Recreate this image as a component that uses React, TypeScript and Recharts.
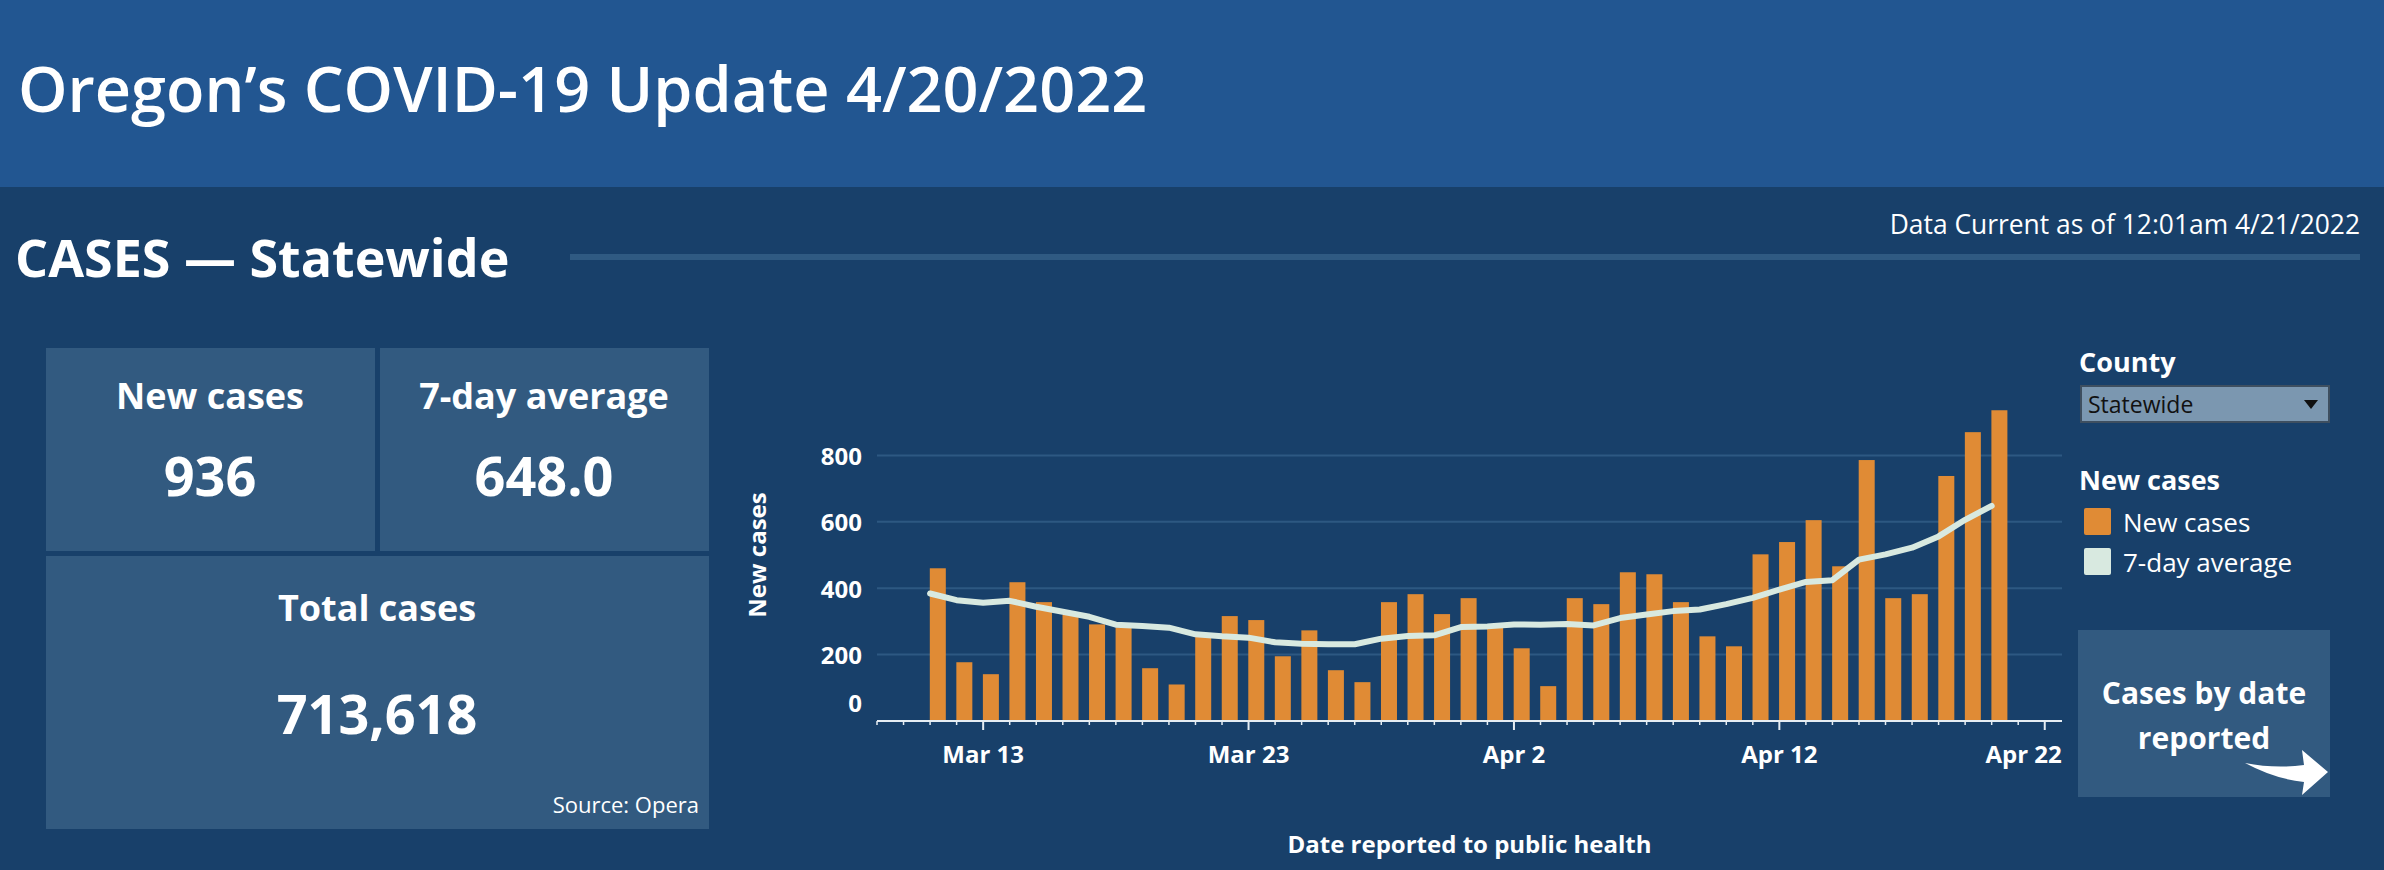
import React from 'react';
import { ComposedChart, Bar, Line, XAxis, YAxis, CartesianGrid } from 'recharts';

// daily data, Mar 11 - Apr 20 2022
const dates = [
  '2022-03-11', '2022-03-12', '2022-03-13', '2022-03-14', '2022-03-15', '2022-03-16', '2022-03-17',
  '2022-03-18', '2022-03-19', '2022-03-20', '2022-03-21', '2022-03-22', '2022-03-23', '2022-03-24',
  '2022-03-25', '2022-03-26', '2022-03-27', '2022-03-28', '2022-03-29', '2022-03-30', '2022-03-31',
  '2022-04-01', '2022-04-02', '2022-04-03', '2022-04-04', '2022-04-05', '2022-04-06', '2022-04-07',
  '2022-04-08', '2022-04-09', '2022-04-10', '2022-04-11', '2022-04-12', '2022-04-13', '2022-04-14',
  '2022-04-15', '2022-04-16', '2022-04-17', '2022-04-18', '2022-04-19', '2022-04-20',
];
const newCases = [
  460, 177, 141, 418, 358, 320, 291, 282, 159, 110, 258, 316, 304, 195,
  273, 153, 117, 358, 382, 322, 370, 285, 219, 105, 370, 352, 448, 442,
  358, 255, 225, 502, 539, 605, 466, 786, 370, 382, 738, 870, 936,
];
const avg7 = [
  384, 364, 356, 362, 344, 329, 314, 290, 286, 281, 261, 255, 251, 237,
  233, 231, 231, 248, 256, 258, 283, 285, 291, 290, 292, 288, 310, 321,
  331, 336, 352, 371, 396, 419, 424, 486, 502, 522, 556, 606, 648,
];

const yTicks = [0, 200, 400, 600, 800];
const gridValues = [200, 400, 600, 800];
const axisStart = '2022-03-09';
const axisEnd = '2022-04-22';
const majorTickDates = ['2022-03-13', '2022-03-23', '2022-04-02', '2022-04-12', '2022-04-22'];
const majorTickLabels = ['Mar 13', 'Mar 23', 'Apr 2', 'Apr 12', 'Apr 22'];

const DAY = 86400000;
const dayNum = (d: string) => (Date.parse(d) - Date.parse(axisStart)) / DAY;

const data = dates.map((d, i) => ({ t: dayNum(d), cases: newCases[i], avg: avg7[i] }));
const lastDay = dayNum(axisEnd);
const dayTicks = Array.from({ length: lastDay + 1 }, (_, i) => i);
const majorDays = majorTickDates.map(dayNum);

const FONT = '"Open Sans", "Noto Sans", sans-serif';
const BG = '#18406a';
const PANEL = '#325a80';
const ORANGE = '#e08b35';
const MINT = '#d8e9e0';

function XTick(props: any) {
  const { x, y, payload } = props;
  const k = majorDays.indexOf(payload.value);
  if (k < 0) {
    return <line x1={x} x2={x} y1={y} y2={y + 4} stroke="#e6edf3" strokeWidth={1.5} />;
  }
  const last = k === majorDays.length - 1;
  return (
    <g>
      <line x1={x} x2={x} y1={y} y2={y + 9} stroke="#e6edf3" strokeWidth={2} />
      <text
        x={last ? x + 17 : x}
        y={y + 32}
        textAnchor={last ? 'end' : 'middle'}
        dominantBaseline="central"
        fill="#fff"
        fontSize={24}
        fontWeight={700}
        fontFamily={FONT}
      >
        {majorTickLabels[k]}
      </text>
    </g>
  );
}

function YTick(props: any) {
  const { x, y, payload } = props;
  return (
    <text
      x={x}
      y={payload.value === 0 ? y - 19 : y}
      textAnchor="end"
      dominantBaseline="central"
      fill="#fff"
      fontSize={24}
      fontWeight={700}
      fontFamily={FONT}
    >
      {payload.value}
    </text>
  );
}

// tableau draws the bar starting at the date, not centred on it
const BarShape = (p: any) => (
  <rect x={p.x + p.width / 2} y={p.y} width={p.width} height={p.height} fill={ORANGE} />
);

function Txt({ x, y, w = 800, align = 'left', size, weight = 400, color = '#fff', children }: any) {
  let left = x;
  if (align === 'center') left = x - w / 2;
  if (align === 'right') left = x - w;
  return (
    <div style={{
      position: 'absolute', left, top: y - size * 0.7, width: w, textAlign: align,
      fontSize: size, fontWeight: weight, lineHeight: `${size * 1.4}px`, color, whiteSpace: 'nowrap',
    }}>
      {children}
    </div>
  );
}

const box = (left: number, top: number, width: number, height: number, bg = PANEL): React.CSSProperties => ({
  position: 'absolute', left, top, width, height, background: bg,
});

export default function App() {
  return (
    <div style={{
      position: 'absolute', left: 0, top: 0, width: 2384, height: 870, background: BG,
      fontFamily: FONT, overflow: 'hidden',
    }}>
      {/* header */}
      <div style={box(0, 0, 2384, 187, '#225691')} />
      <Txt x={18} y={88} size={63} weight={600}>Oregon’s COVID-19 Update 4/20/2022</Txt>

      <Txt x={15} y={257} size={52} weight={700}>CASES — Statewide</Txt>
      <div style={box(570, 254, 1790, 6, '#2f5a82')} />
      <Txt x={2360} y={224} size={26.4} align="right">Data Current as of 12:01am 4/21/2022</Txt>

      {/* KPI tiles */}
      <div style={box(46, 348, 329, 203)} />
      <div style={box(380, 348, 329, 203)} />
      <div style={box(46, 556, 663, 273)} />
      <Txt x={210} y={396} w={320} align="center" size={36} weight={700}>New cases</Txt>
      <Txt x={210} y={476} w={320} align="center" size={54} weight={700}>936</Txt>
      <Txt x={544} y={396} w={320} align="center" size={36} weight={700}>7-day average</Txt>
      <Txt x={544} y={476} w={320} align="center" size={54} weight={700}>648.0</Txt>
      <Txt x={377} y={608} w={600} align="center" size={36} weight={700}>Total cases</Txt>
      <Txt x={377} y={714} w={600} align="center" size={54} weight={700}>713,618</Txt>
      <Txt x={699} y={804} w={300} align="right" size={22}>Source: Opera</Txt>

      {/* chart */}
      <div style={{ position: 'absolute', left: 700, top: 370 }}>
        <ComposedChart width={1400} height={500} data={data} margin={{ top: 19, right: 38, bottom: 0, left: 40 }}>
          <CartesianGrid vertical={false} horizontalValues={gridValues} stroke="#2d5882" strokeWidth={2} />
          <XAxis
            dataKey="t"
            type="number"
            domain={[0, lastDay + 0.65]}
            ticks={dayTicks}
            interval={0}
            tick={<XTick />}
            tickLine={false}
            tickSize={0}
            tickMargin={0}
            axisLine={{ stroke: '#e6edf3', strokeWidth: 2 }}
            height={149}
            label={{
              value: 'Date reported to public health', position: 'insideBottom', offset: 17,
              fill: '#fff', fontSize: 24, fontWeight: 700, fontFamily: FONT,
            }}
          />
          <YAxis
            type="number"
            domain={[0, 1000]}
            ticks={yTicks}
            tick={<YTick />}
            axisLine={false}
            tickLine={false}
            tickSize={0}
            tickMargin={15}
            width={137}
            label={{
              value: 'New cases', angle: -90, position: 'insideLeft', offset: 17,
              fill: '#fff', fontSize: 24, fontWeight: 700, fontFamily: FONT,
              style: { textAnchor: 'middle' },
            }}
          />
          <Bar dataKey="cases" barSize={16} fill={ORANGE} shape={<BarShape />} isAnimationActive={false} />
          <Line
            dataKey="avg"
            type="linear"
            stroke={MINT}
            strokeWidth={6}
            strokeLinecap="round"
            strokeLinejoin="round"
            dot={false}
            activeDot={false}
            isAnimationActive={false}
          />
        </ComposedChart>
      </div>

      {/* right panel */}
      <Txt x={2079} y={362} size={27} weight={700}>County</Txt>
      <div style={{
        ...box(2080, 385, 250, 38, '#7b97b0'), border: '2px solid #3e4f60', boxSizing: 'border-box',
      }} />
      <Txt x={2088} y={404} size={23} color="#111">Statewide</Txt>
      <svg style={{ position: 'absolute', left: 2304, top: 400 }} width={14} height={9}>
        <polygon points="0,0 14,0 7,9" fill="#111" />
      </svg>

      <Txt x={2079} y={480} size={27} weight={700}>New cases</Txt>
      <div style={{ ...box(2084, 508, 27, 27, ORANGE), borderRadius: 2 }} />
      <Txt x={2123} y={522} size={26}>New cases</Txt>
      <div style={{ ...box(2084, 548, 27, 27, MINT), borderRadius: 2 }} />
      <Txt x={2123} y={562} size={26}>7-day average</Txt>

      <div style={box(2078, 630, 252, 167)} />
      <Txt x={2204} y={693} w={250} align="center" size={30} weight={700}>Cases by date</Txt>
      <Txt x={2204} y={738} w={250} align="center" size={30} weight={700}>reported</Txt>
      <svg style={{ position: 'absolute', left: 2240, top: 745 }} width={95} height={55}>
        <path d="M5,18 Q35,34 64,37 L62,50 L88,27 L62,5 L64,20 Q35,24 5,18 Z" fill="#fff" />
      </svg>
    </div>
  );
}
